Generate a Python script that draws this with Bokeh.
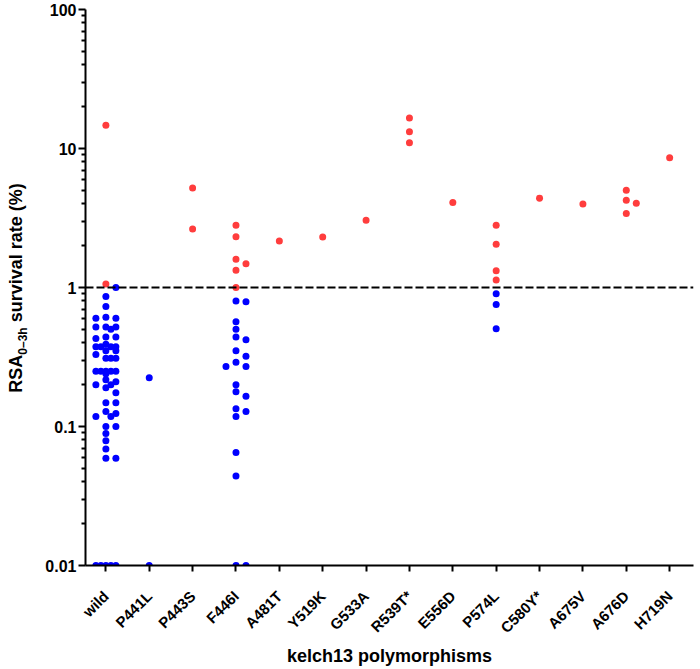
import math
from bokeh.plotting import figure
from bokeh.layouts import row
from bokeh.models import ColumnDataSource, Range1d, FixedTicker, Span, Div, CustomJSTickFormatter
from bokeh.embed import file_html
from bokeh.resources import INLINE

categories = ["wild", "P441L", "P443S", "F446I", "A481T", "Y519K", "G533A",
              "R539T*", "E556D", "P574L", "C580Y*", "A675V", "A676D", "H719N"]

# RSA0-3h survival rate (%) per parasite, red = above 1 % cut-off, blue = below
wild_red = [14.7, 1.06]
wild_blue = [1.0, 0.86, 0.73, 0.61, 0.60, 0.60, 0.52, 0.52, 0.52, 0.50, 0.44, 0.44, 0.43,
             0.39, 0.375, 0.375, 0.375, 0.375, 0.35, 0.35, 0.33, 0.31, 0.31, 0.31,
             0.25, 0.25, 0.25, 0.25, 0.25, 0.24, 0.217, 0.21, 0.20, 0.20, 0.19, 0.175,
             0.148, 0.148, 0.128, 0.124, 0.118, 0.118, 0.10, 0.10, 0.089, 0.079, 0.069,
             0.059, 0.059, 0.01, 0.01, 0.01, 0.01, 0.01]
p441l_red = []
p441l_blue = [0.224, 0.01]
p443s_red = [5.2, 2.64]
p443s_blue = []
f446i_red = [2.8, 2.32, 1.6, 1.48, 1.33, 1.0]
f446i_blue = [0.80, 0.79, 0.567, 0.50, 0.44, 0.42, 0.35, 0.32, 0.29, 0.27, 0.27, 0.20,
              0.178, 0.165, 0.134, 0.128, 0.118, 0.065, 0.044, 0.01, 0.01]
a481t_red = [2.16]
y519k_red = [2.31]
g533a_red = [3.05]
r539t_red = [16.6, 13.2, 11.0]
e556d_red = [4.08]
p574l_red = [2.8, 2.05, 1.32, 1.13]
p574l_blue = [0.90, 0.755, 0.505]
c580y_red = [4.38]
a675v_red = [3.99]
a676d_red = [5.0, 4.24, 4.04, 3.4]
h719n_red = [8.58]

red_lists = [wild_red, p441l_red, p443s_red, f446i_red, a481t_red, y519k_red, g533a_red,
             r539t_red, e556d_red, p574l_red, c580y_red, a675v_red, a676d_red, h719n_red]
blue_lists = [wild_blue, p441l_blue, p443s_blue, f446i_blue, [], [], [],
              [], [], p574l_blue, [], [], [], []]

cutoff = 1
y_ticks = [0.01, 0.1, 1, 10, 100]

RED = "#ff3d3d"
BLUE = "#0000ff"

DIV_W = 30
W, H = 700 - DIV_W, 669
BL, BR, BT, BB = 85 - DIV_W, 7, 9, 102
X0, X1 = -0.47, 13.55
frame_w = W - BL - BR
frame_h = H - BT - BB
px_x = frame_w / (X1 - X0)
px_dec = frame_h / 4.0

# simple swarm layout (pixel slots around the category centre)
slots = [0, 10, -10, 5, -5]
xs, ys, cols = [], [], []
for i, (reds, blues) in enumerate(zip(red_lists, blue_lists)):
    pts = [(v, RED) for v in reds] + [(v, BLUE) for v in blues]
    pts.sort(key=lambda t: -t[0])
    placed = []
    for v, c in pts:
        py = math.log10(v) * px_dec
        best, best_clear = 0, -1
        for s in slots:
            clear = min([abs(py - qy) for qx, qy in placed if abs(qx - s) < 4] or [99])
            if clear >= 6:
                best = s
                break
            if clear > best_clear:
                best, best_clear = s, clear
        placed.append((best, py))
        xs.append(i + best / px_x)
        ys.append(v)
        cols.append(c)

src = ColumnDataSource(dict(x=xs, y=ys, c=cols))

p = figure(width=W, height=H, x_range=Range1d(X0, X1), y_range=Range1d(0.01, 100),
           y_axis_type="log", output_backend="svg", toolbar_location=None,
           min_border_left=BL, min_border_right=BR, min_border_top=BT, min_border_bottom=BB)
p.outline_line_color = None
p.xgrid.visible = False
p.ygrid.visible = False
p.background_fill_color = "white"

p.scatter("x", "y", source=src, size=7, fill_color="c", line_color=None)

p.add_layout(Span(location=cutoff, dimension="width", line_color="black",
                  line_dash="8 3", line_width=2))

FONT = "Liberation Sans"

xa = p.xaxis[0]
xa.ticker = FixedTicker(ticks=list(range(len(categories))))
xa.major_label_overrides = {i: c for i, c in enumerate(categories)}
xa.major_label_orientation = math.pi / 4
xa.major_label_text_font = FONT
xa.major_label_text_font_style = "bold"
xa.major_label_text_font_size = "15px"
xa.major_label_text_color = "black"
xa.major_label_standoff = 22
xa.axis_line_width = 2
xa.major_tick_line_width = 2
xa.major_tick_in = 0
xa.major_tick_out = 6
xa.minor_tick_line_color = None
xa.axis_label = "kelch13 polymorphisms"
xa.axis_label_text_font = FONT
xa.axis_label_text_font_style = "bold"
xa.axis_label_text_font_size = "18px"
xa.axis_label_text_color = "black"
xa.axis_label_standoff = 1

minor = [m * d for d in [0.01, 0.1, 1, 10] for m in range(2, 10)]
ya = p.yaxis[0]
ya.ticker = FixedTicker(ticks=y_ticks, minor_ticks=minor)
ya.formatter = CustomJSTickFormatter(code="return tick.toString()")
ya.major_label_text_font = FONT
ya.major_label_text_font_style = "bold"
ya.major_label_text_font_size = "16px"
ya.major_label_text_color = "black"
ya.major_label_standoff = 2
ya.axis_line_width = 2
ya.major_tick_line_width = 2
ya.minor_tick_line_width = 2
ya.major_tick_in = 0
ya.major_tick_out = 7
ya.minor_tick_in = 0
ya.minor_tick_out = 4

# y axis title (with subscript) as rotated HTML text beside the figure
frame_bottom = BT + frame_h
y_title_html = (
    f'<div style="position:absolute; left:6px; top:{frame_bottom}px; width:{frame_h}px; '
    f'height:20px; line-height:20px; transform:rotate(-90deg); transform-origin:0 0; '
    f'text-align:center; white-space:nowrap; color:black; '
    f"font-family:'{FONT}'; font-weight:bold; font-size:18px;\">"
    'RSA<sub style="font-size:12px;">0\u20133h</sub> survival rate (%)</div>'
)
ytitle = Div(text=y_title_html, width=DIV_W, height=H, margin=(0, 0, 0, 0),
             styles={"position": "relative", "overflow": "visible"})

layout = row(ytitle, p, spacing=0)

open("out.html", "w").write(file_html(layout, INLINE))
